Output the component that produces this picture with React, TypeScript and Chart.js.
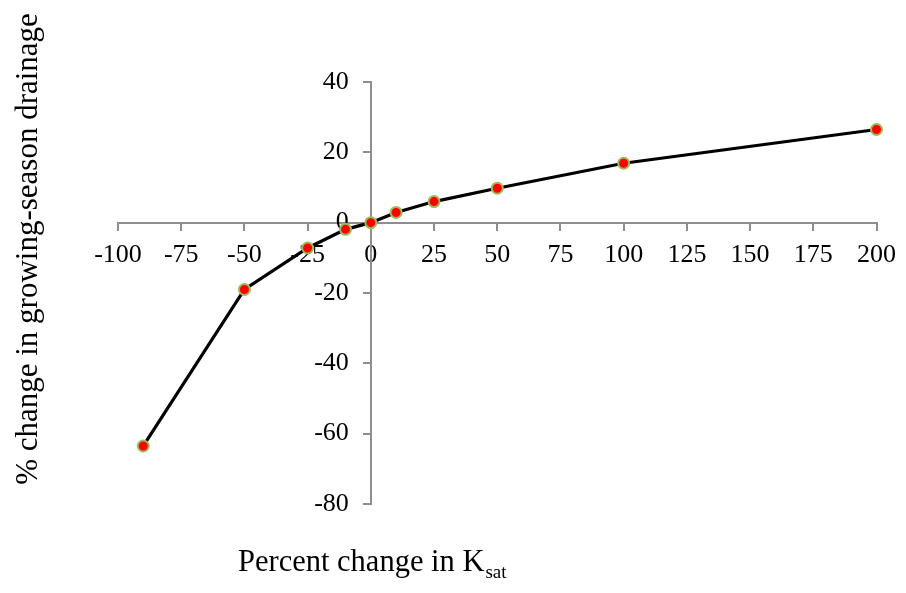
import React, { useEffect, useRef } from "react";
import { Chart, registerables } from "chart.js";

Chart.register(...registerables);

const ksatChange = [-90, -50, -25, -10, 0, 10, 25, 50, 100, 200];
const drainageChange = [-63.5, -19, -7.2, -1.9, 0, 2.9, 6, 9.8, 16.9, 26.5];
const xTickRange = { min: -100, max: 200, step: 25 };
const yTickRange = { min: -80, max: 40, step: 20 };
const yTitle = "% change in growing-season drainage";
const xTitleMain = "Percent change in K";
const xTitleSub = "sat";

const FONT = "'Liberation Serif', 'Times New Roman', serif";
const AXIS_GRAY = "#8e8e8e";
const Y_LABEL_GAP = 22;

// Chart.js places labels of an axis positioned at a value right on the axis line;
// shift the y labels to the left of the tick marks.
const yLabelShiftPlugin = {
  id: "yLabelShift",
  beforeDraw(chart: any) {
    const scale = chart.scales.y;
    const items = scale.getLabelItems();
    if ((items as any).__shifted) return;
    items.forEach((it: any) => {
      it.options.translation[0] -= Y_LABEL_GAP;
      it.options.textAlign = "right";
    });
    (items as any).__shifted = true;
  },
};

const titlePlugin = {
  id: "titles",
  afterDraw(chart: any) {
    const ctx = chart.ctx;
    ctx.save();
    ctx.fillStyle = "#000";
    ctx.font = `31px ${FONT}`;
    ctx.translate(37, 249);
    ctx.rotate(-Math.PI / 2);
    ctx.textAlign = "center";
    ctx.textBaseline = "alphabetic";
    ctx.fillText(yTitle, 0, 0);
    ctx.restore();

    ctx.save();
    ctx.fillStyle = "#000";
    ctx.font = `30.5px ${FONT}`;
    ctx.textAlign = "left";
    ctx.textBaseline = "alphabetic";
    const x0 = 238;
    ctx.fillText(xTitleMain, x0, 571);
    const w = ctx.measureText(xTitleMain).width;
    ctx.font = `19px ${FONT}`;
    ctx.fillText(xTitleSub, x0 + w + 1, 578);
    ctx.restore();
  },
};

export default function App() {
  const ref = useRef<HTMLCanvasElement | null>(null);
  useEffect(() => {
    if (!ref.current) return;
    const chart = new Chart(ref.current, {
      type: "scatter",
      data: {
        datasets: [
          {
            data: ksatChange.map((x, i) => ({ x, y: drainageChange[i] })),
            showLine: true,
            borderColor: "#000",
            borderWidth: 3.2,
            pointBackgroundColor: "#ff0000",
            pointBorderColor: "#9bbb59",
            pointBorderWidth: 2,
            pointRadius: 5.5,
            tension: 0,
            clip: false as any,
          },
        ],
      },
      options: {
        responsive: false,
        animation: false,
        layout: { padding: { left: 118, right: 27, top: 82, bottom: 89 } },
        plugins: { legend: { display: false }, tooltip: { enabled: false } },
        scales: {
          x: {
            type: "linear",
            position: { y: 0 } as any,
            min: xTickRange.min,
            max: xTickRange.max,
            grid: { display: true, drawOnChartArea: false, drawTicks: true, tickLength: 7, color: AXIS_GRAY, lineWidth: 2 },
            border: { display: true, color: AXIS_GRAY, width: 2 },
            ticks: {
              stepSize: xTickRange.step,
              autoSkip: false,
              maxRotation: 0,
              color: "#000",
              padding: 10,
              font: { family: FONT, size: 26 },
            },
          },
          y: {
            type: "linear",
            position: { x: 0 } as any,
            min: yTickRange.min,
            max: yTickRange.max,
            grid: { display: true, drawOnChartArea: false, drawTicks: true, tickLength: 7, color: AXIS_GRAY, lineWidth: 2 },
            border: { display: true, color: AXIS_GRAY, width: 2 },
            ticks: {
              stepSize: yTickRange.step,
              autoSkip: false,
              color: "#000",
              padding: 15,
              font: { family: FONT, size: 26 },
            },
          },
        },
      },
      plugins: [yLabelShiftPlugin, titlePlugin],
    });
    return () => chart.destroy();
  }, []);
  return (
    <div style={{ position: "absolute", left: 0, top: 0, width: 906, height: 593, background: "#fff" }}>
      <canvas ref={ref} width={906} height={593} style={{ width: 906, height: 593, display: "block" }} />
    </div>
  );
}
